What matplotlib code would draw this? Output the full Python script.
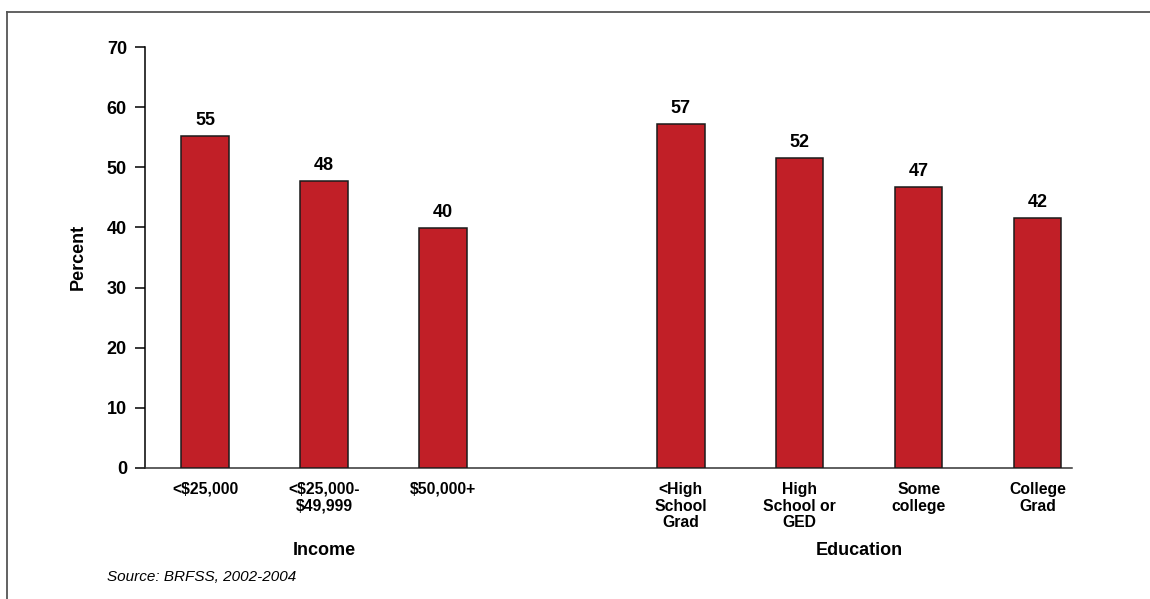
import matplotlib.pyplot as plt
from matplotlib.lines import Line2D

plt.rcParams['font.family'] = ['Liberation Sans', 'DejaVu Sans']

# percent by income and education
income_labels = ['<$25,000', '<$25,000-\n$49,999', '$50,000+']
income_values = [55.2, 47.8, 39.9]
edu_labels = ['<High\nSchool\nGrad', 'High\nSchool or\nGED', 'Some\ncollege', 'College\nGrad']
edu_values = [57.2, 51.6, 46.7, 41.6]

labels = income_labels + edu_labels
values = income_values + edu_values
xpos = [0, 1, 2, 4, 5, 6, 7]

W, H = 1150, 599
fig = plt.figure(figsize=(W / 100, H / 100), dpi=100)
ax = fig.add_axes([145 / W, 1 - 468 / H, (1072 - 145) / W, (468 - 47) / H])

bars = ax.bar(xpos, values, width=0.40, color='#c11f27', edgecolor='#1a1a1a',
              linewidth=1.1, zorder=3)
for b, v in zip(bars, values):
    ax.annotate(f'{v:.0f}', (b.get_x() + b.get_width() / 2, v),
                xytext=(0, 5), textcoords='offset points', ha='center', va='bottom',
                fontsize=13, fontweight='bold')

ax.set_xlim(-0.505, 7.29)
ax.set_ylim(0, 70)
ax.set_yticks(range(0, 71, 10))
ax.tick_params(axis='y', length=7, width=1.1, pad=6, labelsize=13)
for t in ax.get_yticklabels():
    t.set_fontweight('bold')
ax.set_xticks(xpos)
ax.set_xticklabels(labels, fontsize=11.3, fontweight='bold', linespacing=1.15)
ax.tick_params(axis='x', length=0, pad=10)

for s in ['top', 'right']:
    ax.spines[s].set_visible(False)
ax.spines['left'].set_linewidth(1.1)
ax.spines['bottom'].set_linewidth(1.1)
ax.spines['bottom'].set_color('#333333')

fig.text(78 / W, 1 - 257 / H, 'Percent', rotation=90, ha='center', va='center',
         fontsize=13, fontweight='bold')
ax.text(1, -0.197, 'Income', transform=ax.get_xaxis_transform(), ha='center',
        va='center', fontsize=13, fontweight='bold')
ax.text(5.5, -0.197, 'Education', transform=ax.get_xaxis_transform(), ha='center',
        va='center', fontsize=13, fontweight='bold')
fig.text(107 / W, 1 - 577 / H, 'Source: BRFSS, 2002-2004', ha='left', va='center',
         fontsize=11, fontstyle='italic')

# outer frame, open at right and bottom
fig.add_artist(Line2D([6.5 / W, 6.5 / W], [0, 1 - 12 / H], color='#555555', linewidth=1.3))
fig.add_artist(Line2D([6.5 / W, 1], [1 - 12 / H, 1 - 12 / H], color='#555555', linewidth=1.3))

fig.savefig('out.png', dpi=100)
